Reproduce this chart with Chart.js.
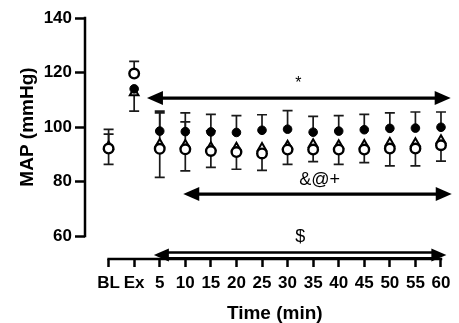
<!DOCTYPE html>
<html>
<head>
<meta charset="utf-8">
<script src="https://cdn.jsdelivr.net/npm/chart.js@4.4.0/dist/chart.umd.min.js"></script>
<style>
  html, body { margin: 0; padding: 0; background: #fff; }
</style>
</head>
<body>
<canvas id="grafica" width="459" height="323"></canvas>
<script>
// categorias del eje x (BL, Ex y minutos)
let etiquetas = ["BL", "Ex", "5", "10", "15", "20", "25", "30", "35", "40", "45", "50", "55", "60"];
let ticksY = [60, 80, 100, 120, 140];

// circulo lleno
let lleno = [92.0, 114.0, 98.5, 98.3, 98.2, 98.0, 98.8, 99.2, 98.1, 98.5, 99.0, 99.5, 99.6, 99.9];
let llenoArriba = [7.1, 0, 7.3, 6.9, 6.4, 6.2, 5.7, 6.8, 5.8, 5.7, 5.6, 5.7, 5.9, 5.6];
let llenoAbajo = [0, 0, 0, 0, 0, 0, 0, 0, 0, 0, 0, 0, 0, 0];

// triangulo abierto
let triangulo = [92.8, 112.6, 93.8, 93.4, 92.6, 92.4, 92.3, 93.1, 93.7, 93.3, 93.4, 94.1, 94.0, 95.1];
let trianguloArriba = [4.6, 0, 11.4, 8.5, 6.0, 0, 0, 0, 0, 0, 0, 0, 0, 0];
let trianguloAbajo = [0, 6.8, 0, 0, 0, 0, 0, 0, 0, 0, 0, 0, 0, 0];

// circulo abierto
let abierto = [92.1, 119.6, 92.0, 91.8, 91.2, 90.8, 90.3, 91.7, 91.7, 91.7, 91.7, 92.1, 92.1, 93.3];
let abiertoArriba = [0, 4.5, 0, 0, 0, 0, 0, 0, 0, 0, 0, 0, 0, 0];
let abiertoAbajo = [5.8, 0, 10.5, 7.9, 6.0, 6.3, 6.2, 5.4, 4.4, 5.4, 4.8, 6.4, 6.4, 5.8];

// flechas de significancia: [x inicio, x fin, y, texto, x del texto, y del texto, doble linea]
let flechas = [
  [1.5, 13.38, 110.6, "*", 7.42, 116.0, false],
  [2.92, 13.42, 75.4, "&@+", 8.25, 80.7, false],
  [1.77, 13.21, 53.0, "$", 7.5, 59.8, true]
];

const fuente = "'Liberation Sans', Arial, sans-serif";

function puntos(arr) {
  return arr.map((v, i) => ({ x: i, y: v }));
}

// barras de error, dibujadas antes que los puntos
const barrasError = {
  id: "barrasError",
  beforeDatasetsDraw(chart) {
    const ctx = chart.ctx;
    const sy = chart.scales.y;
    ctx.save();
    ctx.strokeStyle = "#1a1a1a";
    ctx.lineWidth = 1.7;
    chart.data.datasets.forEach((ds, i) => {
      const meta = chart.getDatasetMeta(i);
      meta.data.forEach((pt, j) => {
        const v = ds.data[j].y;
        [[ds.errArriba[j], 1], [ds.errAbajo[j], -1]].forEach(([e, s]) => {
          if (!e) return;
          const y1 = sy.getPixelForValue(v + s * e);
          ctx.beginPath();
          ctx.moveTo(pt.x, pt.y);
          ctx.lineTo(pt.x, y1);
          ctx.moveTo(pt.x - 5, y1);
          ctx.lineTo(pt.x + 5, y1);
          ctx.stroke();
        });
      });
    });
    ctx.restore();
  }
};

function cabeza(ctx, x, y, dir, largo, alto) {
  ctx.beginPath();
  ctx.moveTo(x, y);
  ctx.lineTo(x - dir * largo, y - alto);
  ctx.lineTo(x - dir * largo, y + alto);
  ctx.closePath();
  ctx.fill();
}

// ejes desplazados, flechas y titulos
const extras = {
  id: "extras",
  afterDraw(chart) {
    const ctx = chart.ctx;
    const sx = chart.scales.x;
    const sy = chart.scales.y;
    const area = chart.chartArea;
    ctx.save();
    ctx.strokeStyle = "#000";
    ctx.fillStyle = "#000";
    ctx.lineWidth = 2.5;
    ctx.lineCap = "butt";

    // eje y
    ctx.beginPath();
    ctx.moveTo(area.left, sy.getPixelForValue(60) + 1.25);
    ctx.lineTo(area.left, sy.getPixelForValue(140) - 1.25);
    ctx.stroke();
    // eje x
    ctx.beginPath();
    ctx.moveTo(sx.getPixelForValue(0) - 1.25, area.bottom);
    ctx.lineTo(sx.getPixelForValue(13) + 1.25, area.bottom);
    ctx.stroke();

    flechas.forEach(([x0, x1, yv, txt, xt, yt, doble]) => {
      const a = sx.getPixelForValue(x0);
      const b = sx.getPixelForValue(x1);
      const y = sy.getPixelForValue(yv);
      if (doble) {
        ctx.lineWidth = 2.4;
        ctx.beginPath();
        ctx.moveTo(a + 10, y - 2.6);
        ctx.lineTo(b - 10, y - 2.6);
        ctx.stroke();
        ctx.lineWidth = 1.6;
        ctx.beginPath();
        ctx.moveTo(a + 10, y + 2.8);
        ctx.lineTo(b - 10, y + 2.8);
        ctx.stroke();
        cabeza(ctx, a, y, -1, 15, 6.5);
        cabeza(ctx, b, y, 1, 15, 6.5);
      } else {
        ctx.lineWidth = 3.2;
        ctx.beginPath();
        ctx.moveTo(a + 8, y);
        ctx.lineTo(b - 8, y);
        ctx.stroke();
        cabeza(ctx, a, y, -1, 16, 7);
        cabeza(ctx, b, y, 1, 16, 7);
      }
      ctx.font = (txt === "*" ? "16px " : "18px ") + fuente;
      ctx.textAlign = "center";
      ctx.textBaseline = "middle";
      ctx.fillText(txt, sx.getPixelForValue(xt), sy.getPixelForValue(yt));
    });

    // titulos de los ejes
    ctx.font = "bold 19px " + fuente;
    ctx.textAlign = "center";
    ctx.textBaseline = "alphabetic";
    ctx.fillText("Time (min)", sx.getPixelForValue(6.5), 318.5);
    ctx.translate(33, sy.getPixelForValue(100));
    ctx.rotate(-Math.PI / 2);
    ctx.fillText("MAP (mmHg)", 0, 0);
    ctx.restore();
  }
};

new Chart(document.getElementById("grafica"), {
  type: "scatter",
  data: {
    datasets: [
      {
        data: puntos(abierto),
        errArriba: abiertoArriba,
        errAbajo: abiertoAbajo,
        pointStyle: "circle",
        pointRadius: 4.8,
        pointBorderWidth: 2.4,
        pointBackgroundColor: "#fff",
        pointBorderColor: "#000"
      },
      {
        data: puntos(lleno),
        errArriba: llenoArriba,
        errAbajo: llenoAbajo,
        pointStyle: "circle",
        pointRadius: 4.3,
        pointBorderWidth: 1,
        pointBackgroundColor: "#000",
        pointBorderColor: "#000"
      },
      {
        data: puntos(triangulo),
        errArriba: trianguloArriba,
        errAbajo: trianguloAbajo,
        pointStyle: "triangle",
        pointRadius: 5,
        pointBorderWidth: 2,
        pointBackgroundColor: "#fff",
        pointBorderColor: "#000"
      }
    ]
  },
  options: {
    responsive: false,
    animation: false,
    events: [],
    layout: { padding: { top: 18, right: 1, left: 0, bottom: 0 } },
    plugins: { legend: { display: false }, tooltip: { enabled: false } },
    scales: {
      x: {
        type: "linear",
        min: -0.923,
        max: 13.423,
        afterFit: (s) => { s.height = 64; },
        afterBuildTicks: (s) => { s.ticks = etiquetas.map((t, i) => ({ value: i })); },
        border: { display: false },
        grid: { drawOnChartArea: false, drawTicks: true, tickLength: 8, tickWidth: 2.5, tickColor: "#000" },
        ticks: {
          autoSkip: false,
          maxRotation: 0,
          padding: 6,
          color: "#000",
          font: { family: fuente, size: 17, weight: "bold" },
          callback: (v) => etiquetas[v]
        }
      },
      y: {
        min: 51.56,
        max: 140,
        afterFit: (s) => { s.width = 85; },
        afterBuildTicks: (s) => { s.ticks = ticksY.map((v) => ({ value: v })); },
        border: { display: false },
        grid: { drawOnChartArea: false, drawTicks: true, tickLength: 10, tickWidth: 2.5, tickColor: "#000" },
        ticks: {
          padding: 3,
          color: "#000",
          font: { family: fuente, size: 17, weight: "bold" }
        }
      }
    }
  },
  plugins: [barrasError, extras]
});
</script>
</body>
</html>
